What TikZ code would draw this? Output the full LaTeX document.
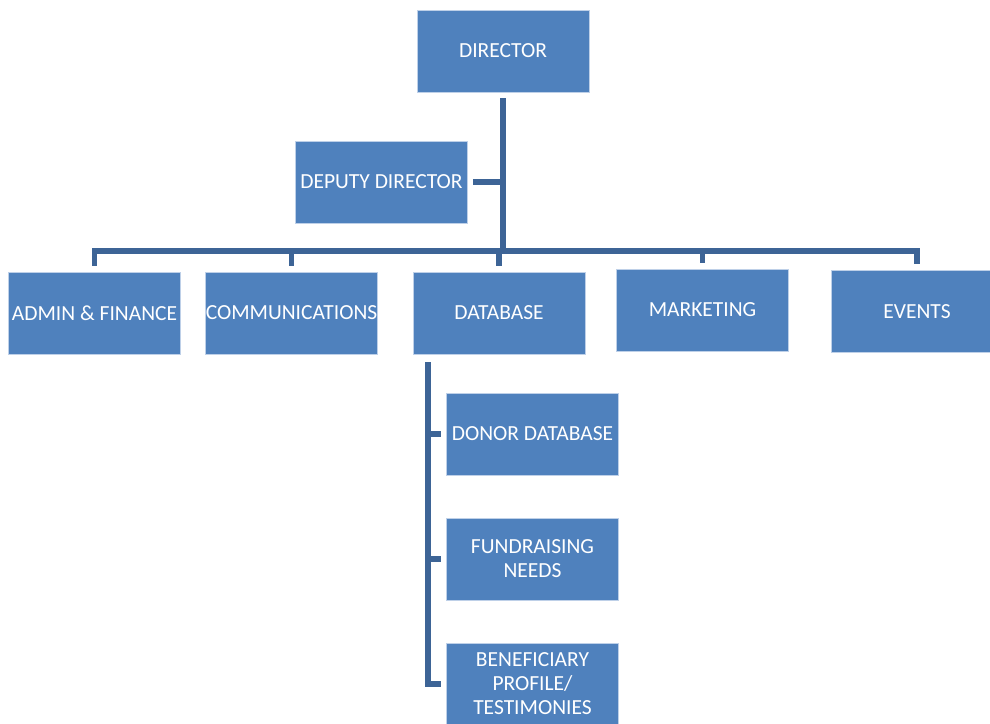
\documentclass[tikz,border=0pt]{standalone}
\usepackage{fontspec}
\setmainfont{Carlito}
\usepackage{tikz}
\definecolor{boxblue}{RGB}{79, 129, 189}
\definecolor{boxedge}{RGB}{190, 208, 232}
\definecolor{linkblue}{RGB}{61, 100, 150}
\newcommand*{\bw}{86pt}
\newcommand*{\bh}{41pt}

\begin{document}
\begin{tikzpicture}[
   x=0.5pt, y=-0.5pt,
   unitbox/.style={rectangle, draw=boxedge, fill=boxblue, line width=0.4, text=white,
                   inner sep=1, minimum width=\bw, minimum height=\bh, align=center,
                   font={\fontsize{10.75}{12}\selectfont}},
   link/.style={draw=linkblue, line width=2.8, line join=miter}
  ]

  % Page frame
  \useasboundingbox (0, 0) rectangle (990, 723);

  \node (dir) at (503, 51) [unitbox] {DIRECTOR};
  \node (dep) at (381.5, 182) [unitbox] {DEPUTY DIRECTOR};

  \node (adm) at (94.5, 313) [unitbox] {ADMIN \& FINANCE};
  \node (com) at (291.5, 313) [unitbox] {\makebox[80pt]{COMMUNICATIONS}};
  \node (dat) at (499, 313) [unitbox] {DATABASE};
  \node (mkt) at (702.5, 310) [unitbox] {MARKETING};
  \node (evt) at (917, 311.5) [unitbox] {EVENTS};

  \node (don) at (532.5, 434) [unitbox] {DONOR DATABASE};
  \node (fnd) at (532.5, 559) [unitbox] {FUNDRAISING\\NEEDS};
  \node (ben) at (532.5, 684) [unitbox] {BENEFICIARY\\PROFILE/\\TESTIMONIES};

  % Junctions
  \coordinate (bus) at (503, 251);
  \coordinate (sub) at (428, 362);

  \draw[link, shorten <=3] (dir.south) -- (dir.south |- bus);
  \draw[link, shorten <=2.5] (dep.east) -- (dep.east -| bus);

  \draw[link, shorten <=3, shorten >=3] (adm.north) -- (adm.north |- bus)
    -- (evt.north |- bus) -- (evt.north);
  \foreach \E in {com, dat, mkt} {
    \draw[link, shorten >=3] (\E.north |- bus) -- (\E.north);
  }

  \draw[link, shorten >=2.5] (sub) -- (sub |- ben) -- (ben.west);
  \foreach \E in {don, fnd} {
    \draw[link, shorten >=2.5] (sub |- \E) -- (\E.west);
  }

\end{tikzpicture}
\end{document}
